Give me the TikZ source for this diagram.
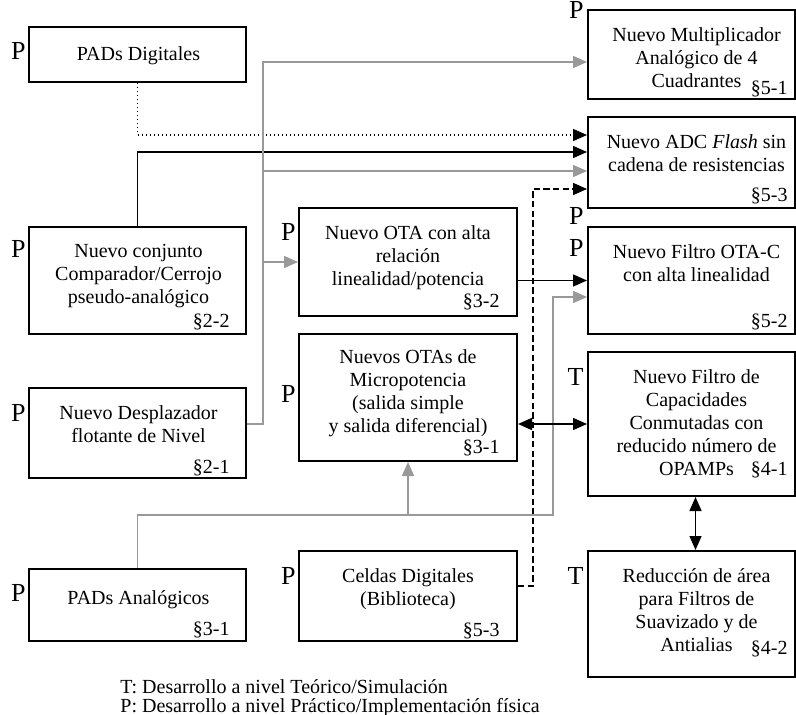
\documentclass[tikz,border=0pt]{standalone}
\usepackage{fontspec}
\setmainfont{Liberation Serif}
\usetikzlibrary{arrows.meta,calc,fit}

\begin{document}
\begin{tikzpicture}[x = 0.5pt, y = -0.5pt,
	box/.style = {draw, line width = 1pt, inner sep = 0pt},
	txt/.style = {anchor = north, align = center, inner sep = 0pt, yshift = -9pt, font = \fontsize{10}{11.5}\selectfont, execute at begin node = \strut},
	sec/.style = {anchor = base east, inner sep = 0pt, font = \fontsize{10}{11.5}\selectfont},
	lvl/.style = {anchor = base east, inner sep = 0pt, font = \fontsize{13}{13}\selectfont},
	con/.style = {line width = 0.75pt},
	gry/.style = {con, black!40},
	arr/.style = {-{Triangle[length = 7pt, width = 6pt]}},
	arrs/.style = {{Triangle[length = 7pt, width = 6pt]}-{Triangle[length = 7pt, width = 6pt]}},
	]
	\useasboundingbox (0,0) rectangle (796,715);
	%
	\node[box, fit = {(29,27) (246,82)}] (padsd) {};
	\node[box, fit = {(29,227) (246,334)}] (comp) {};
	\node[box, fit = {(29,388) (246,478)}] (despl) {};
	\node[box, fit = {(29,569) (246,641)}] (padsa) {};
	\node[box, fit = {(299,208) (517,316)}] (otar) {};
	\node[box, fit = {(299,334) (517,461)}] (otamp) {};
	\node[box, fit = {(299,551) (517,641)}] (celdas) {};
	\node[box, fit = {(588,10) (795,99)}] (mult) {};
	\node[box, fit = {(588,117) (795,208)}] (adc) {};
	\node[box, fit = {(588,227) (795,334)}] (otac) {};
	\node[box, fit = {(588,352) (795,496)}] (cap) {};
	\node[box, fit = {(588,551) (795,677)}] (red) {};
	%
	\node[txt] (tpadsd) at ($(padsd.north)+(1,0)$) {PADs Digitales};
	\node[txt] (tcomp) at ($(comp.north)+(1,0)$) {Nuevo conjunto\\Comparador/Cerrojo\\pseudo-analógico};
	\node[txt] (tdespl) at ($(despl.north)+(1,0)$) {Nuevo Desplazador\\flotante de Nivel};
	\node[txt, yshift = -1pt] (tpadsa) at ($(padsa.north)+(1,0)$) {PADs Analógicos};
	\node[txt] (totar) at (otar.north) {Nuevo OTA con alta\\relación\\linealidad/potencia};
	\node[txt, yshift = 1pt] (totamp) at (otamp.north) {Nuevos OTAs de\\Micropotencia\\(salida simple\\y salida diferencial)};
	\node[txt] (tceldas) at (celdas.north) {Celdas Digitales\\(Biblioteca)};
	\node[txt] (tmult) at ($(mult.north)+(5,0)$) {Nuevo Multiplicador\\Analógico de 4\\Cuadrantes};
	\node[txt] (tadc) at ($(adc.north)+(5,0)$) {Nuevo ADC \textit{Flash} sin\\cadena de resistencias};
	\node[txt] (totac) at ($(otac.north)+(5,0)$) {Nuevo Filtro OTA-C\\con alta linealidad};
	\node[txt] (tcap) at ($(cap.north)+(5,0)$) {Nuevo Filtro de\\Capacidades\\Conmutadas con\\reducido número de\\OPAMPs};
	\node[txt] (tred) at ($(red.north)+(5,0)$) {Reducción de área\\para Filtros de\\Suavizado y de\\Antialias};
	%
	\node[sec] (scomp) at ($(comp.south east)+(-17,-7)$) {§2-2};
	\node[sec] (sdespl) at ($(despl.south east)+(-17,-6)$) {§2-1};
	\node[sec] (spadsa) at ($(padsa.south east)+(-17,-7)$) {§3-1};
	\node[sec] (sotar) at ($(otar.south east)+(-18,-9)$) {§3-2};
	\node[sec] (sotamp) at ($(otamp.south east)+(-18,-9)$) {§3-1};
	\node[sec] (sceldas) at ($(celdas.south east)+(-18,-6)$) {§5-3};
	\node[sec] (smult) at ($(mult.south east)+(-8,-5)$) {§5-1};
	\node[sec] (sadc) at ($(adc.south east)+(-8,-7)$) {§5-3};
	\node[sec] (sotac) at ($(otac.south east)+(-8,-7)$) {§5-2};
	\node[sec] (scap) at ($(cap.south east)+(-8,-22)$) {§4-1};
	\node[sec] (sred) at ($(red.south east)+(-8,-24)$) {§4-2};
	%
	\node[lvl] (lpadsd) at ($(padsd.north west)+(-2,34)$) {P};
	\node[lvl] (lcomp) at ($(comp.north west)+(-2,32)$) {P};
	\node[lvl] (ldespl) at ($(despl.north west)+(-2,34)$) {P};
	\node[lvl] (lpadsa) at ($(padsa.north west)+(-2,33)$) {P};
	\node[lvl] (lotar) at ($(otar.north west)+(-2,34)$) {P};
	\node[lvl] (lotamp) at ($(otamp.north west)+(-2,69)$) {P};
	\node[lvl] (lceldas) at ($(celdas.north west)+(-2,34)$) {P};
	\node[lvl] (lmult) at ($(mult.north west)+(-3,10)$) {P};
	\node[lvl] (ladc) at ($(adc.south west)+(-3,16)$) {P};
	\node[lvl] (lotac) at ($(otac.north west)+(-3,31)$) {P};
	\node[lvl] (lcap) at ($(cap.north west)+(-3,35)$) {T};
	\node[lvl] (lred) at ($(red.north west)+(-3,34)$) {T};
	%
	\node[anchor = base west, align = left, inner sep = 0pt, font = \fontsize{10}{9.5}\selectfont] (legend) at (120,712) {T: Desarrollo a nivel Teórico/Simulación\\P: Desarrollo a nivel Práctico/Implementación física};
	%
	\coordinate (gbus) at (263,0);
	\coordinate (dbus) at (533,0);
	\coordinate (abus) at (553,515);
	\coordinate (a1) at ($(adc.north west)+(0,19)$);
	\coordinate (a2) at ($(adc.north west)+(0,36)$);
	\coordinate (a3) at ($(adc.north west)+(0,55)$);
	\coordinate (a4) at ($(adc.north west)+(0,73)$);
	\coordinate (m1) at ($(mult.north west)+(0,53)$);
	\coordinate (c1) at ($(otac.north west)+(0,71)$);
	\coordinate (d1) at ($(despl.east)+(0,-9)$);
	\coordinate (e1) at ($(celdas.east)+(0,-10)$);
	%
	\draw[con, dash pattern = on 0.75pt off 1.25pt, arr] (padsd.south) |- (a1);
	\draw[con, arr] (comp.north) |- (a2);
	\draw[gry, arr] (d1) -| (gbus |- m1) -- (m1);
	\draw[gry, arr] (gbus |- a3) -- (a3);
	\draw[gry, arr] (gbus |- otar.west) -- (otar.west);
	\draw[con, dash pattern = on 3.2pt off 1.6pt, arr] (e1) -| (dbus |- a4) -- (a4);
	\draw[con, arr] (otar.east |- otac.west) -- (otac.west);
	\draw[gry, arr] (padsa.north) |- (abus) |- (c1);
	\draw[gry, arr] (otamp.south |- abus) -- (otamp.south);
	\draw[con, arrs] (otamp.east |- cap.west) -- (cap.west);
	\draw[con, arrs] ($(cap.south)+(4,0)$) -- ($(red.north)+(4,0)$);
	%
\end{tikzpicture}
\end{document}
